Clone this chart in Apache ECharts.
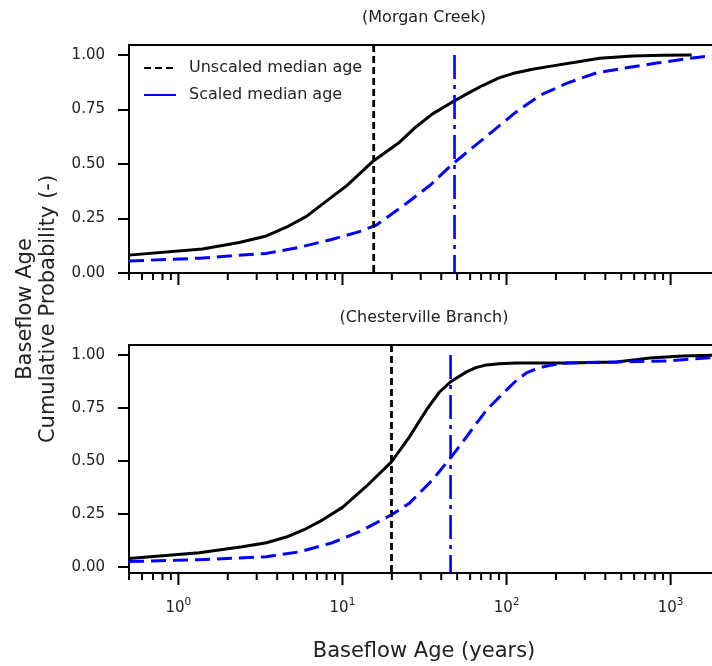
<!DOCTYPE html>
<html><head><meta charset="utf-8">
<script src="https://cdn.jsdelivr.net/npm/echarts@6/dist/echarts.min.js"></script>
<style>html,body{margin:0;padding:0;background:#fff}#c{width:712px;height:666px}</style>
</head><body><div id="c"></div>
<script>
// ---- data ----
const morganAgeUnscaled = [0.5, 1.4, 2.35, 3.44, 4.55, 6.03, 7.98, 10.6, 15.2, 22.3, 28, 35.4, 48.2, 60, 71.4, 90, 109, 144, 183, 280, 369, 587, 900, 1343];
const morganUnscaled    = [0.082, 0.11, 0.14, 0.17, 0.21, 0.26, 0.33, 0.40, 0.51, 0.60, 0.67, 0.73, 0.79, 0.83, 0.86, 0.895, 0.915, 0.935, 0.948, 0.97, 0.985, 0.995, 0.999, 1.0];
const morganAgeScaled   = [0.5, 1.34, 3.44, 5.47, 8.69, 12.7, 16.1, 24.6, 33.9, 46.9, 62.0, 82.2, 115, 160, 232, 354, 525, 822, 1442, 2000];
const morganScaled      = [0.055, 0.068, 0.09, 0.118, 0.155, 0.19, 0.22, 0.32, 0.40, 0.50, 0.575, 0.65, 0.74, 0.815, 0.87, 0.918, 0.94, 0.963, 0.989, 1.0];
const chestAgeUnscaled  = [0.5, 1.34, 2.45, 3.44, 4.55, 6.03, 7.54, 10, 14, 19.9, 25.6, 32.5, 39, 45.6, 57, 65, 75.5, 90, 115, 232, 469, 745, 1183, 2000];
const chestUnscaled     = [0.038, 0.066, 0.094, 0.113, 0.14, 0.18, 0.22, 0.28, 0.38, 0.495, 0.613, 0.74, 0.825, 0.873, 0.92, 0.94, 0.953, 0.958, 0.962, 0.962, 0.967, 0.986, 0.995, 1.0];
const chestAgeScaled    = [0.5, 1.34, 3.44, 5.47, 8.69, 12.7, 19.9, 25.6, 35.4, 45.6, 57, 75.5, 100, 115, 132, 150, 166, 190, 232, 469, 946, 2000];
const chestScaled       = [0.024, 0.033, 0.047, 0.07, 0.113, 0.165, 0.245, 0.30, 0.41, 0.514, 0.613, 0.74, 0.835, 0.88, 0.915, 0.932, 0.943, 0.953, 0.962, 0.967, 0.972, 0.99];
const medianUnscaled = [15.5, 19.9];   // Morgan, Chesterville
const medianScaled   = [48.2, 45.6];
const titles = ['(Morgan Creek)', '(Chesterville Branch)'];
const yTicks = [0, 0.25, 0.5, 0.75, 1.0];
const majorTicks = [1, 10, 100, 1000];
const minorTicks = [0.5,0.6,0.7,0.8,0.9, 2,3,4,5,6,7,8,9, 20,30,40,50,60,70,80,90, 200,300,400,500,600,700,800,900];

// ---- layout ----
const FONT = 'DejaVu Sans';
const X_MIN = 0.5, X_MAX = 2000;
const yRange = [[0, 1.046], [-0.030, 1.047]];
const grids = [
  {left:129, top:45, width:591, height:228},
  {left:129, top:345, width:591, height:228}
];
const zip = (a, b) => a.map((v, i) => [v, b[i]]);
const curves = [[zip(morganAgeUnscaled, morganUnscaled), zip(morganAgeScaled, morganScaled)],
                [zip(chestAgeUnscaled, chestUnscaled), zip(chestAgeScaled, chestScaled)]];

const option = {
  animation: false,
  backgroundColor: '#fff',
  grid: grids.map(g => Object.assign({show:true, borderColor:'#000', borderWidth:2, backgroundColor:'transparent', outerBoundsMode:'none', containLabel:false}, g)),
  xAxis: [0,1].map(i => ({
    gridIndex: i, type: 'log', logBase: 10, min: X_MIN, max: X_MAX,
    axisLine: {show: true, onZero: false, lineStyle: {color:'#000', width: 2}},
    axisTick: {show: false}, splitLine: {show: false}, minorTick: {show:false},
    axisLabel: {
      show: i === 1, margin: 24, fontFamily: FONT, fontSize: 15, color: '#222',
      showMinLabel: true, showMaxLabel: true,
      formatter: v => {
        const l = Math.log10(v);
        if (Math.abs(l - Math.round(l)) > 1e-6) return '';
        return '{b|10}{s|' + Math.round(l) + '}';
      },
      rich: {
        b: {fontFamily: FONT, fontSize: 15, color: '#222', lineHeight: 22, verticalAlign: 'middle'},
        s: {fontFamily: FONT, fontSize: 10.5, color: '#222', lineHeight: 11, verticalAlign: 'top'}
      }
    }
  })),
  yAxis: [0,1].map(i => ({
    gridIndex: i, type: 'value', min: yRange[i][0], max: yRange[i][1],
    axisLine: {show: true, onZero: false, lineStyle: {color:'#000', width: 2}},
    axisTick: {show: true, length: 11, customValues: yTicks, lineStyle: {color:'#000', width: 2}},
    splitLine: {show: false},
    axisLabel: {customValues: yTicks, margin: 24, fontFamily: FONT, fontSize: 15, color: '#222',
      formatter: v => Number(v).toFixed(2)}
  })),
  legend: {
    left: 143, top: 60, padding: 0, orient: 'vertical', itemWidth: 32, itemHeight: 14, itemGap: 11,
    textStyle: {fontFamily: FONT, fontSize: 16, color: '#222', padding: [0,0,0,8]},
    itemStyle: {opacity: 0},
    data: [{name: 'Unscaled median age', itemStyle: {opacity: 0}},
           {name: 'Scaled median age', itemStyle: {opacity: 0}, lineStyle: {type: 'solid'}}],
    selectedMode: false
  },
  graphic: [
    {type:'text', x: 424, y: 18, style: {text: titles[0], font: '16px "DejaVu Sans"', fill: '#222', align: 'center', verticalAlign: 'middle'}},
    {type:'text', x: 424, y: 318, style: {text: titles[1], font: '16px "DejaVu Sans"', fill: '#222', align: 'center', verticalAlign: 'middle'}},
    {type:'text', x: 424, y: 652, style: {text: 'Baseflow Age (years)', font: '21px "DejaVu Sans"', fill: '#222', align: 'center', verticalAlign: 'middle'}},
    {type:'text', x: 37, y: 309, rotation: Math.PI/2, style: {text: 'Baseflow Age\nCumulative Probability (-)', font: '21px "DejaVu Sans"', lineHeight: 23, fill: '#222', align: 'center', verticalAlign: 'middle'}}
  ],
  series: []
};

[0,1].forEach(i => {
  option.series.push({
    type: 'line', xAxisIndex: i, yAxisIndex: i, data: curves[i][0], symbol: 'none',
    smooth: false, lineStyle: {color: '#000', width: 3, join: 'round'}, z: 3, silent: true
  });
  option.series.push({
    type: 'line', xAxisIndex: i, yAxisIndex: i, data: curves[i][1], symbol: 'none',
    smooth: false, lineStyle: {color: '#0000ff', width: 3, type: [15, 7]}, z: 3, silent: true
  });
  option.series.push({
    name: 'Unscaled median age', type: 'line', xAxisIndex: i, yAxisIndex: i, symbol: 'none',
    data: [[medianUnscaled[i], yRange[i][1]], [medianUnscaled[i], yRange[i][0]]],
    lineStyle: {color: '#000', width: 2.8, type: [7, 4]}, itemStyle: {color:'#000'}, z: 4, silent: true
  });
  option.series.push({
    name: 'Scaled median age', type: 'line', xAxisIndex: i, yAxisIndex: i, symbol: 'none',
    data: [[medianScaled[i], 1.0], [medianScaled[i], yRange[i][0]]],
    lineStyle: {color: '#0000ff', width: 2.6, type: [24, 6, 4, 6]}, itemStyle: {color:'#0000ff'}, z: 4, silent: true
  });
  // x-axis tick marks (major + minor), positioned by the log axis
  const tickData = majorTicks.map(v => [v, yRange[i][0], 12]).concat(minorTicks.map(v => [v, yRange[i][0], 7]));
  option.series.push({
    type: 'custom', xAxisIndex: i, yAxisIndex: i, data: tickData, clip: false, silent: true, z: 5,
    encode: {x: 0, y: 1},
    renderItem: (params, api) => {
      const p = api.coord([api.value(0), api.value(1)]);
      const len = api.value(2);
      return {type: 'line', shape: {x1: p[0], y1: p[1], x2: p[0], y2: p[1] + len}, style: {stroke: '#000', lineWidth: 2}};
    }
  });
});

const chart = echarts.init(document.getElementById('c'), null, {renderer: 'canvas'});
chart.setOption(option);
</script>
</body></html>
